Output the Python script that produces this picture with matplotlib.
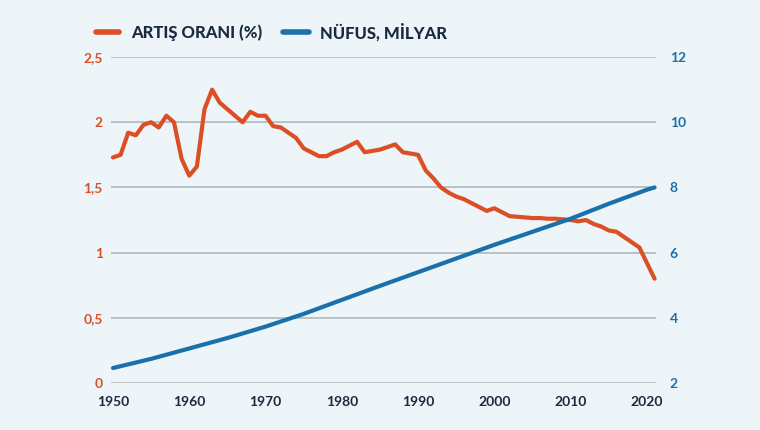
import numpy as np
import matplotlib.pyplot as plt
from matplotlib.lines import Line2D

# Veriler
yillar = list(range(1950, 2022))
artis_orani = [1.73, 1.75, 1.92, 1.90, 1.98, 2.00, 1.96, 2.05, 2.00, 1.72,
               1.59, 1.66, 2.10, 2.25, 2.15, 2.10, 2.05, 2.00, 2.08, 2.05,
               2.05, 1.97, 1.96, 1.92, 1.88, 1.80, 1.77, 1.74, 1.74, 1.77,
               1.79, 1.82, 1.85, 1.77, 1.78, 1.79, 1.81, 1.83, 1.77, 1.76,
               1.75, 1.63, 1.57, 1.50, 1.46, 1.43, 1.41, 1.38, 1.35, 1.32,
               1.34, 1.31, 1.28, 1.275, 1.27, 1.265, 1.265, 1.26, 1.26, 1.255,
               1.25, 1.24, 1.25, 1.22, 1.20, 1.17, 1.16, 1.12, 1.08, 1.04,
               0.92, 0.80]
nufus_yillar = [1950, 1955, 1960, 1965, 1970, 1975, 1980, 1985, 1990, 1995,
                2000, 2005, 2010, 2015, 2020, 2021]
nufus = [2.46, 2.74, 3.06, 3.38, 3.73, 4.12, 4.55, 4.98, 5.40, 5.82,
         6.24, 6.64, 7.04, 7.50, 7.93, 8.00]

sol_ticks = [0, 0.5, 1, 1.5, 2, 2.5]
sol_etiketler = ['0', '0,5', '1', '1,5', '2', '2,5']
sag_ticks = [2, 4, 6, 8, 10, 12]
x_ticks = [1950, 1960, 1970, 1980, 1990, 2000, 2010, 2020]

turuncu = '#dc4f25'
mavi = '#1a70aa'
lacivert = '#1b2a40'
arka = '#edf5f8'
izgara = '#a8b3ba'

plt.rcParams['font.family'] = ['Lato', 'DejaVu Sans']

fig = plt.figure(figsize=(7.6, 4.3), dpi=100, facecolor=arka)
ax = fig.add_axes([0.146, 0.1093, 0.717, 0.758])
ax.set_facecolor(arka)
ax2 = ax.twinx()

ax.set_xlim(1949.74, 2021.17)
ax.set_ylim(0, 2.5)
ax2.set_ylim(2, 12)

for y in sol_ticks:
    ax.axhline(y, color=izgara, lw=1.1, zorder=1)

ax.plot(yillar, artis_orani, color=turuncu, lw=3, solid_capstyle='round',
        solid_joinstyle='round', clip_on=False, zorder=3)
ax2.plot(nufus_yillar, nufus, color=mavi, lw=3, solid_capstyle='round',
         clip_on=False, zorder=3)

for a in (ax, ax2):
    for s in a.spines.values():
        s.set_visible(False)

ax.set_yticks(sol_ticks)
ax.set_yticklabels(sol_etiketler)
ax.tick_params(axis='y', length=0, pad=6, labelcolor=turuncu, labelsize=10)
ax2.set_yticks(sag_ticks)
ax2.tick_params(axis='y', length=0, pad=10, labelcolor=mavi, labelsize=10)
ax.set_xticks(x_ticks)
ax.tick_params(axis='x', length=0, pad=9, labelcolor=lacivert, labelsize=10)
for lbl in ax.get_yticklabels() + ax2.get_yticklabels() + ax.get_xticklabels():
    lbl.set_fontweight('bold')

# Lejant
fig.add_artist(Line2D([0.126, 0.157], [0.925, 0.925], color=turuncu, lw=4,
                      solid_capstyle='round'))
fig.text(0.172, 0.925, 'ARTIŞ ORANI (%)', color=lacivert, fontsize=12,
         fontweight='black', va='center')
fig.add_artist(Line2D([0.372, 0.406], [0.925, 0.925], color=mavi, lw=4,
                      solid_capstyle='round'))
fig.text(0.421, 0.925, 'NÜFUS, MİLYAR', color=lacivert, fontsize=12,
         fontweight='black', va='center')

fig.savefig('out.png', dpi=100, facecolor=arka)
